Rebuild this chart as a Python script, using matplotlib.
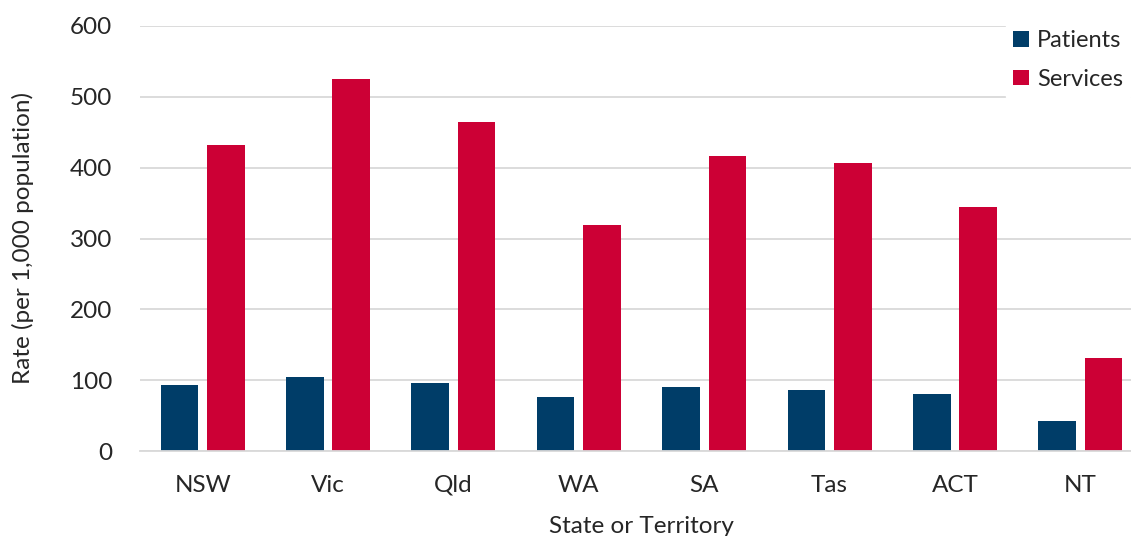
"""Grouped bar chart of patient and service rates by state or territory."""

import matplotlib.pyplot as plt
import numpy as np
from matplotlib.patches import Patch

plt.rcParams["font.family"] = ["Lato", "DejaVu Sans"]

# Rates per 1,000 population.
states = ["NSW", "Vic", "Qld", "WA", "SA", "Tas", "ACT", "NT"]
patients = [93, 104, 96, 76, 90, 86, 80, 43]
services = [432, 525, 464, 319, 416, 406, 345, 131]

PATIENT_COLOR = "#003D68"
SERVICE_COLOR = "#CC0035"
GRID_COLOR = "#D9D9D9"
TEXT_COLOR = "#262626"
FONT_SIZE = 17.5

fig = plt.figure(figsize=(11.31, 5.36), dpi=100)
ax = fig.add_axes([140 / 1131, 1 - 451 / 536, 1003 / 1131, 425 / 536])

x = np.arange(len(states))
width = 0.30
offset = 0.185
ax.bar(x - offset, patients, width, color=PATIENT_COLOR, zorder=2)
ax.bar(x + offset, services, width, color=SERVICE_COLOR, zorder=2)

ax.set_xlim(-0.5, len(states) - 0.5)
ax.set_ylim(0, 600)
ax.set_yticks(np.arange(0, 601, 100))
ax.set_xticks(x)
ax.set_xticklabels(states)
ax.yaxis.grid(True, color=GRID_COLOR, linewidth=1.3, zorder=0)
ax.set_axisbelow(True)

for side in ("top", "right", "left"):
    ax.spines[side].set_visible(False)
ax.spines["bottom"].set_color(GRID_COLOR)
ax.spines["bottom"].set_linewidth(1.3)

ax.tick_params(axis="both", length=0, labelsize=FONT_SIZE, colors=TEXT_COLOR)
ax.tick_params(axis="y", pad=20)
ax.tick_params(axis="x", pad=17)

ax.set_xlabel("State or Territory", fontsize=FONT_SIZE, color=TEXT_COLOR,
              labelpad=15)
ax.set_ylabel("Rate (per 1,000 population)", fontsize=FONT_SIZE,
              color=TEXT_COLOR, labelpad=26)

handles = [
    Patch(facecolor=PATIENT_COLOR, label="Patients"),
    Patch(facecolor=SERVICE_COLOR, label="Services"),
]
leg = ax.legend(
    handles=handles,
    loc="upper right",
    bbox_to_anchor=(1 - 1 / 1131, 1 - 23 / 536),
    bbox_transform=fig.transFigure,
    frameon=True,
    fancybox=False,
    edgecolor="white",
    facecolor="white",
    framealpha=1,
    fontsize=17,
    handlelength=0.65,
    handleheight=0.65,
    handletextpad=0.35,
    labelspacing=0.75,
    borderpad=0.3,
    borderaxespad=0,
)
for text in leg.get_texts():
    text.set_color(TEXT_COLOR)

fig.savefig("out.png", dpi=100)
plt.close(fig)
